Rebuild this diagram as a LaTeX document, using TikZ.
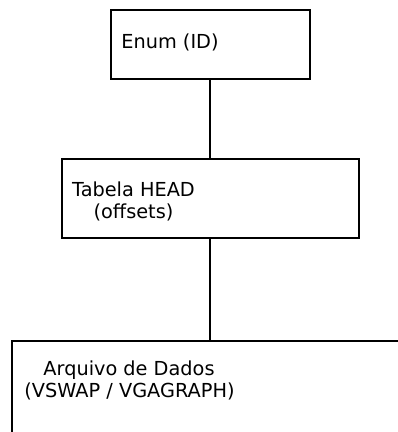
\documentclass[tikz,border=0pt]{standalone}
\usepackage{fontspec}
\setmainfont{DejaVu Sans}
\begin{document}
\begin{tikzpicture}[x=1pt,y=-1pt,
  box/.style={draw=black,line width=1.6pt,fill=white,inner sep=0pt,anchor=north west},
  lbl/.style={inner sep=0pt,anchor=base,align=center,font=\fontsize{19.3}{21.5}\selectfont},
  link/.style={draw=black,line width=1.4pt}]
\useasboundingbox (0,0) rectangle (398,432);
\clip (0,0) rectangle (398,432);
\node[box,minimum width=199pt,minimum height=69pt] (enum) at (110,9) {};
\node[box,minimum width=297pt,minimum height=79pt] (head) at (61,158) {};
\node[box,minimum width=400pt,minimum height=110pt] (data) at (11,340) {};
\draw[link] (210,78) coordinate (a1) -- (210,158) coordinate (a2);
\draw[link] (210,237) coordinate (b1) -- (210,340) coordinate (b2);
\node[lbl] (t1) at (170,48) {Enum (ID)};
\node[lbl] (t2) at (133.5,196.5) {Tabela HEAD};
\node[lbl] (t3) at (133.5,218) {(offsets)};
\node[lbl] (t4) at (129,375.5) {Arquivo de Dados};
\node[lbl] (t5) at (129.5,397) {(VSWAP / VGAGRAPH)};
\end{tikzpicture}
\end{document}
